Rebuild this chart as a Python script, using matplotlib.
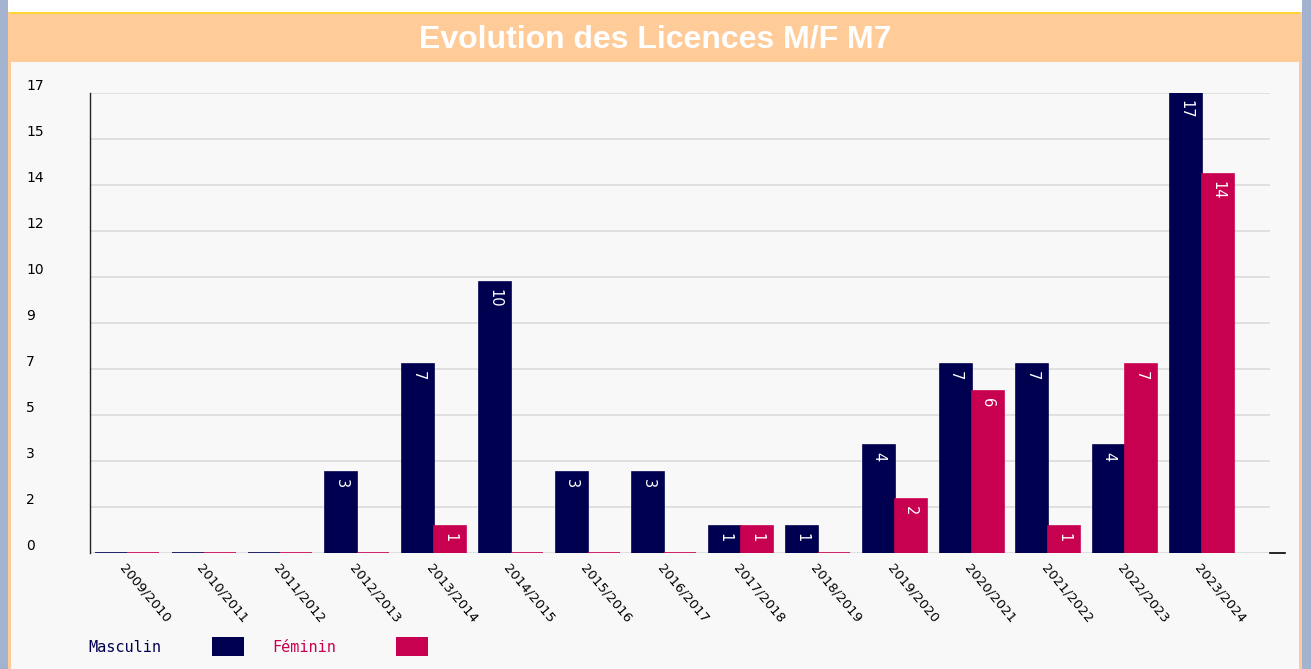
import numpy as np
import matplotlib
matplotlib.use("Agg")
import matplotlib.pyplot as plt
from matplotlib.patches import Rectangle
from matplotlib.lines import Line2D

W, H = 1311, 669

SEASONS = ["2009/2010", "2010/2011", "2011/2012", "2012/2013", "2013/2014",
           "2014/2015", "2015/2016", "2016/2017", "2017/2018", "2018/2019",
           "2019/2020", "2020/2021", "2021/2022", "2022/2023", "2023/2024"]
MASCULIN = [0, 0, 0, 3, 7, 10, 3, 3, 1, 1, 4, 7, 7, 4, 17]
FEMININ = [0, 0, 0, 0, 1, 0, 0, 0, 1, 0, 2, 6, 1, 7, 14]
YMAX = 17

NAVY = "#000050"
PINK = "#c80050"


def px_rect(x, y, w, h, color, z=0):
    # rectangle in pixel coords (top-left origin) -> figure fraction
    return Rectangle((x / W, 1 - (y + h) / H), w / W, h / H,
                     transform=fig.transFigure, facecolor=color,
                     edgecolor="none", zorder=z)


fig = plt.figure(figsize=(W / 100, H / 100), dpi=100)
fig.patch.set_facecolor("white")

# frame / page decoration
fig.add_artist(px_rect(0, 0, 8, H, "#a3b3cf"))
fig.add_artist(px_rect(1302, 0, 9, H, "#a3b3cf"))
fig.add_artist(px_rect(8, 12, 1294, H - 12, "#ffcc99"))
fig.add_artist(px_rect(10, 12, 1290, 2, "#ffd633"))
fig.add_artist(px_rect(11, 62, 1288, H - 62, "#f8f8f8"))

fig.text(655 / W, 1 - 39 / H, "Evolution des Licences M/F M7", color="white",
         fontsize=23, fontweight="bold", family="Liberation Sans",
         ha="center", va="center")

ax = fig.add_axes([90 / W, (H - 553) / H, 1180 / W, 460 / H])
ax.set_facecolor("#f8f8f8")

x = np.arange(len(SEASONS))
bw = 0.417
b1 = ax.bar(x - bw / 2, MASCULIN, bw, color=NAVY, edgecolor=NAVY, linewidth=1.2, zorder=3)
b2 = ax.bar(x + bw / 2, FEMININ, bw, color=PINK, edgecolor=PINK, linewidth=1.2, zorder=3)

for bars, vals in ((b1, MASCULIN), (b2, FEMININ)):
    for rect, v in zip(bars, vals):
        if v > 0:
            ax.annotate(str(v), (rect.get_x() + rect.get_width() / 2, v),
                        xytext=(0, -5), textcoords="offset points",
                        ha="center", va="top", rotation=-90, color="white",
                        fontsize=10.5, zorder=4)

ax.set_xlim(-0.479, 14.885)
ax.set_ylim(0, YMAX)

yt = [YMAX * i / 10 for i in range(11)]
ax.set_yticks(yt)
ax.set_yticklabels([str(int(np.floor(v + 0.5))) for v in yt])
for lab in ax.get_yticklabels():
    lab.set_ha("left")
    lab.set_va("bottom")
ax.tick_params(axis="y", length=0, pad=46, labelsize=10)
ax.grid(axis="y", color="#dcdcdc", linewidth=1.2)
ax.set_axisbelow(True)

ax.set_xticks(x)
ax.set_xticklabels(SEASONS, rotation=-50, ha="left", va="top",
                   rotation_mode="anchor", fontsize=9.5)
ax.tick_params(axis="x", length=0, pad=6)

for s in ("top", "right", "bottom"):
    ax.spines[s].set_visible(False)
ax.spines["left"].set_color("#222222")
ax.spines["left"].set_linewidth(1)

ax.add_line(Line2D([1.0, 1.013], [0, 0], transform=ax.transAxes,
                   color="black", linewidth=1.2, clip_on=False))

# legend
fig.text(88 / W, 1 - 647 / H, "Masculin", color=NAVY, fontsize=11,
         family="DejaVu Sans Mono", ha="left", va="center")
fig.add_artist(px_rect(212, 637, 32, 19, NAVY, 5))
fig.text(272 / W, 1 - 647 / H, "Féminin", color=PINK, fontsize=11,
         family="DejaVu Sans Mono", ha="left", va="center")
fig.add_artist(px_rect(396, 637, 32, 19, PINK, 5))

fig.savefig("out.png", dpi=100, facecolor=fig.get_facecolor())
